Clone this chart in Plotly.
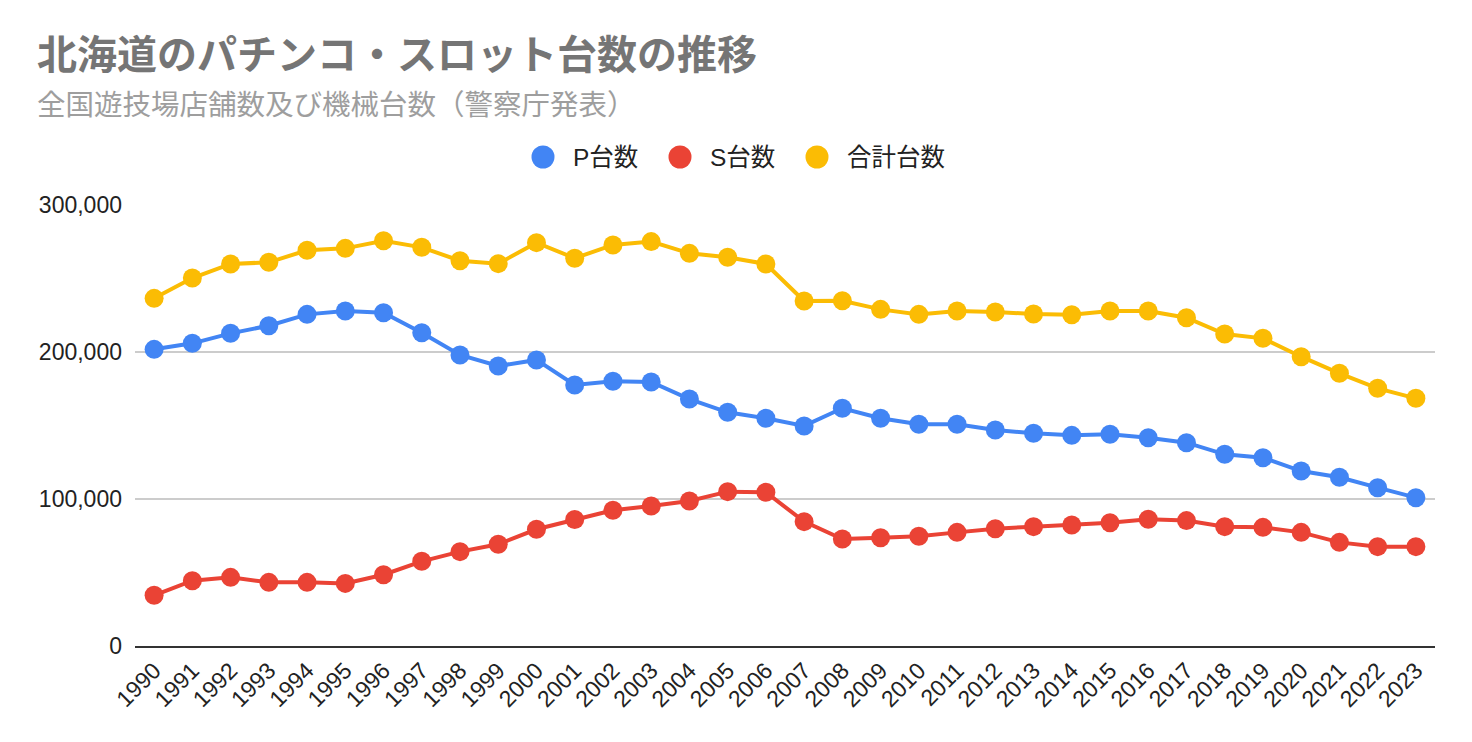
import plotly.graph_objects as go

years = [str(y) for y in range(1990, 2024)]

p_units = [201800, 205900, 212700, 217900, 225600, 227900, 226700, 213100, 198000, 190500,
           194600, 177600, 180100, 179600, 168000, 159000, 154900, 149700, 161700, 154900,
           150800, 150800, 146900, 144700, 143300, 144000, 141700, 138300, 130400, 128100,
           119000, 114800, 107700, 100900]

s_units = [34500, 44400, 46700, 43300, 43300, 42600, 48500, 57600, 64200, 69200,
           79400, 86000, 92300, 95200, 98600, 105000, 104600, 84600, 72800, 73700,
           74600, 77300, 79800, 81200, 82300, 83900, 86200, 85300, 81200, 80700,
           77300, 70500, 67600, 67600]

total_units = [236500, 250300, 259900, 261000, 269200, 270500, 275700, 271200, 262100, 260100,
               274400, 263800, 272800, 275100, 267100, 264400, 259900, 234700, 234900, 229000,
               225600, 227900, 227200, 225900, 225400, 227900, 227900, 223300, 212200, 209300,
               196800, 185500, 175300, 168500]

series_names = ["P台数", "S台数", "合計台数"]
series_values = [p_units, s_units, total_units]
colors = ["#4285F4", "#EA4335", "#FBBC04"]

title_text = "北海道のパチンコ・スロット台数の推移"
subtitle_text = "全国遊技場店舗数及び機械台数（警察庁発表）"

FONT = "Arial, 'Liberation Sans', 'Noto Sans CJK JP', sans-serif"

# page body has an 8px margin; figure sized so the plot lands where the reference has it
OFF = 8
W, H = 1472 - OFF, 742 - OFF
L, R, T, B = 135 - OFF, 37, 205 - OFF, 96
PW, PH = W - L - R, H - T - B


def px_x(px):
    return (px - OFF - L) / PW


def px_y(py):
    return (H - B - (py - OFF)) / PH


fig = go.Figure()
for name, vals, col in zip(series_names, series_values, colors):
    fig.add_trace(go.Scatter(
        x=years, y=vals, name=name, mode="lines+markers",
        line=dict(color=col, width=4),
        marker=dict(color=col, size=19),
        showlegend=False,
        hovertemplate="%{x}: %{y:,}<extra>" + name + "</extra>",
    ))

# Custom legend (circles + labels)
legend_circle_x = [543, 680, 817]
legend_text_x = [571, 708, 845]
legend_y = 157
shapes = []
annotations = []
for name, col, cx, tx in zip(series_names, colors, legend_circle_x, legend_text_x):
    shapes.append(dict(
        type="circle", xref="paper", yref="paper",
        xsizemode="pixel", ysizemode="pixel",
        xanchor=px_x(cx), yanchor=px_y(legend_y),
        x0=-11.5, x1=11.5, y0=-11.5, y1=11.5,
        fillcolor=col, line=dict(width=0),
    ))
    annotations.append(dict(
        text=name, xref="paper", yref="paper",
        x=px_x(tx), y=px_y(legend_y), xanchor="left", yanchor="middle",
        showarrow=False, font=dict(family=FONT, size=24.5, color="#222222"),
    ))

annotations.append(dict(
    text="<b>" + title_text + "</b>", xref="paper", yref="paper",
    x=px_x(35), y=px_y(55), xanchor="left", yanchor="middle",
    showarrow=False, font=dict(family=FONT, size=40, color="#757575"),
))
annotations.append(dict(
    text=subtitle_text, xref="paper", yref="paper",
    x=px_x(35), y=px_y(105), xanchor="left", yanchor="middle",
    showarrow=False, font=dict(family=FONT, size=28.5, color="#9E9E9E"),
))

fig.update_layout(
    width=W, height=H,
    margin=dict(l=L, r=R, t=T, b=B, pad=0),
    paper_bgcolor="white", plot_bgcolor="white",
    font=dict(family=FONT, color="#222222"),
    showlegend=False,
    shapes=shapes,
    annotations=annotations,
    xaxis=dict(
        type="category", range=[-0.5, len(years) - 0.5],
        tickangle=-45, tickfont=dict(size=23, color="#222222"),
        showgrid=False, showline=True, linecolor="#333333", linewidth=2,
        ticks="", zeroline=False,
    ),
    yaxis=dict(
        range=[0, 300000], tickvals=[0, 100000, 200000, 300000],
        tickformat=",", tickfont=dict(size=23, color="#222222"),
        showgrid=True, gridcolor="#CCCCCC", gridwidth=1.5,
        zeroline=False, showline=False, ticks="", ticklabelstandoff=12,
    ),
)

fig.write_html("out.html")
